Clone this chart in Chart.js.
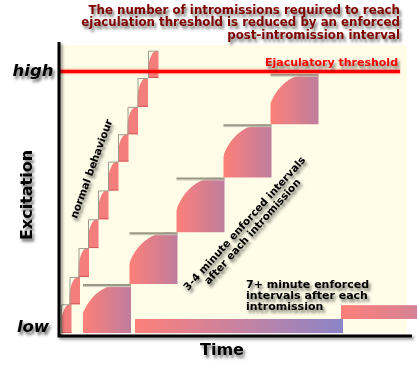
<!DOCTYPE html>
<html>
<head>
<meta charset="utf-8">
<script src="https://cdn.jsdelivr.net/npm/chart.js@4"></script>
<style>
  html, body { margin: 0; padding: 0; background: #fff; }
  #wrap { width: 417px; height: 366px; position: relative; }
</style>
</head>
<body>
<div id="wrap"><canvas id="chart"></canvas></div>
<script>
// excitation model, arbitrary units: time on x, excitation on y
// normal behaviour: one intromission after another
const normalStart = [0.1, 0.95, 1.85, 2.8, 3.8, 4.8, 5.8, 6.75, 7.75, 8.8];
const normalLevel = [1.0, 1.95, 2.95, 3.95, 4.95, 5.95, 6.9, 7.85, 8.85, 9.8];
const normalDur = 1.05;

// 3-4 minute enforced intervals
const shortStart = [2.3, 6.95, 11.65, 16.35, 21.05];
const shortLevel = [1.7, 3.5, 5.4, 7.25, 9.0];
const shortDur = 4.8;

// 7+ minute enforced intervals
const longStart = [7.5, 28.1];
const longEnd = [28.3, 36];
const longLevel = [0.49, 0.97];

const threshold = 9.08;
const tickValues = [0.2, threshold];
const tickLabels = ["low", "high"];

const titleLines = [
  "The number of intromissions required to reach",
  "ejaculation threshold is reduced by an enforced",
  "post-intromission interval",
];

const FONT = "'DejaVu Sans', Verdana, sans-serif";

function shadowText(ctx, text, x, y, font, color, align, rot) {
  ctx.save();
  ctx.translate(x, y);
  if (rot) ctx.rotate(rot);
  ctx.font = font;
  ctx.textAlign = align || "left";
  ctx.textBaseline = "middle";
  ctx.shadowColor = "rgba(0,0,0,0.55)";
  ctx.shadowBlur = 3;
  ctx.shadowOffsetX = 2;
  ctx.shadowOffsetY = 3;
  ctx.fillStyle = color;
  ctx.fillText(text, 0, 0);
  ctx.restore();
}

function drawStep(ctx, xs, ys, t0, t1, v0, v1, small) {
  const l = xs.getPixelForValue(t0);
  const r = xs.getPixelForValue(t1);
  const b = ys.getPixelForValue(v0);
  const t = ys.getPixelForValue(v1);
  const w = r - l;
  const h = b - t;

  ctx.save();
  ctx.beginPath();
  ctx.rect(l, t, w, h);
  ctx.clip();
  if (small) {
    ctx.fillStyle = "#f47e7c";
  } else {
    const g = ctx.createLinearGradient(l, 0, r, 0);
    g.addColorStop(0, "#fd8079");
    g.addColorStop(1, "#bf7d9d");
    ctx.fillStyle = g;
  }
  ctx.beginPath();
  ctx.ellipse(l + w * 0.81, b, w * 0.89, h, 0, 0, Math.PI * 2);
  ctx.fill();
  ctx.restore();

  ctx.save();
  if (small) {
    ctx.strokeStyle = "#d45a5a";
    ctx.lineWidth = 1;
    ctx.beginPath();
    ctx.moveTo(l, b - 0.5);
    ctx.lineTo(r, b - 0.5);
    ctx.stroke();
    ctx.strokeStyle = "#9c9c8c";
    ctx.beginPath();
    ctx.moveTo(l + 0.5, b);
    ctx.lineTo(l + 0.5, t + 0.5);
    ctx.lineTo(r, t + 0.5);
    ctx.stroke();
  } else {
    ctx.strokeStyle = "#cfcfbf";
    ctx.lineWidth = 1;
    ctx.beginPath();
    ctx.moveTo(l, t + 2.5);
    ctx.lineTo(r, t + 2.5);
    ctx.stroke();
    ctx.strokeStyle = "#999986";
    ctx.lineWidth = 2;
    ctx.beginPath();
    ctx.moveTo(l, t + 1);
    ctx.lineTo(r, t + 1);
    ctx.stroke();
  }
  ctx.restore();
}

const backdrop = {
  id: "backdrop",
  beforeDatasetsDraw(chart) {
    const { ctx, scales } = chart;
    const xs = scales.x, ys = scales.y;

    // cream plot area
    ctx.save();
    ctx.fillStyle = "#fffde8";
    const l = xs.getPixelForValue(0), r = xs.getPixelForValue(34.7);
    const t = ys.getPixelForValue(10), b = ys.getPixelForValue(0);
    ctx.fillRect(l, t, r - l, b - t);
    ctx.restore();

    // 7+ minute intervals: long slow rises
    longStart.forEach((s, i) => {
      const x0 = xs.getPixelForValue(s);
      const x1 = xs.getPixelForValue(longEnd[i]);
      const y0 = ys.getPixelForValue(i ? longLevel[i - 1] : 0);
      const y1 = ys.getPixelForValue(longLevel[i]);
      const g = ctx.createLinearGradient(x0, 0, i ? x0 + 205 : x1, 0);
      g.addColorStop(0, "#fd8079");
      g.addColorStop(0.5, "#c882a0");
      g.addColorStop(1, "#8a84c8");
      ctx.fillStyle = g;
      ctx.fillRect(x0, y1, x1 - x0, y0 - y1);
    });

    // 3-4 minute intervals
    shortStart.forEach((s, i) => {
      drawStep(ctx, xs, ys, s, s + shortDur, i ? shortLevel[i - 1] : 0, shortLevel[i], false);
    });

    // normal behaviour
    normalStart.forEach((s, i) => {
      drawStep(ctx, xs, ys, s, s + normalDur, i ? normalLevel[i - 1] : 0, normalLevel[i], true);
    });
  },
  beforeDatasetDraw(chart) {
    const ctx = chart.ctx;
    ctx.save();
    ctx.shadowColor = "rgba(255,90,90,0.6)";
    ctx.shadowBlur = 3;
  },
  afterDatasetDraw(chart) {
    chart.ctx.restore();
  },
  afterDatasetsDraw(chart) {
    const { ctx, scales } = chart;
    const xs = scales.x, ys = scales.y;

    // axes
    ctx.save();
    ctx.shadowColor = "rgba(0,0,0,0.45)";
    ctx.shadowBlur = 3;
    ctx.shadowOffsetX = 2;
    ctx.shadowOffsetY = 2;
    ctx.strokeStyle = "#000";
    ctx.lineWidth = 3;
    ctx.beginPath();
    ctx.moveTo(xs.getPixelForValue(-0.1), ys.getPixelForValue(10.1));
    ctx.lineTo(xs.getPixelForValue(-0.1), ys.getPixelForValue(-0.1));
    ctx.lineTo(xs.getPixelForValue(35.2), ys.getPixelForValue(-0.1));
    ctx.stroke();
    ctx.restore();

    // y tick labels
    tickValues.forEach((v, i) => {
      shadowText(ctx, tickLabels[i], xs.getPixelForValue(-2.7), ys.getPixelForValue(v),
        "italic bold 16.5px " + FONT, "#000", "center");
    });

    // axis titles
    shadowText(ctx, "Excitation", 28, 195, "bold 16px " + FONT, "#000", "center", -Math.PI / 2);
    shadowText(ctx, "Time", 222, 351, "bold 16px " + FONT, "#000", "center");

    // title
    titleLines.forEach((line, i) => {
      shadowText(ctx, line, 400, 11 + i * 12.3, "bold 11.8px " + FONT, "#800000", "right");
    });

    shadowText(ctx, "Ejaculatory threshold", 398, 63, "bold 11px " + FONT, "#ff0000", "right");

    shadowText(ctx, "normal behaviour", 92, 169, "bold 10.5px " + FONT, "#000", "center",
      -70 * Math.PI / 180);

    shadowText(ctx, "3-4 minute enforced intervals", 245, 224, "bold 10.5px " + FONT, "#000", "center",
      -48 * Math.PI / 180);
    shadowText(ctx, "after each intromission", 253, 232, "bold 10.5px " + FONT, "#000", "center",
      -48 * Math.PI / 180);

    ["7+ minute enforced", "intervals after each", "intromission"].forEach((line, i) => {
      shadowText(ctx, line, 246, 285 + i * 11, "bold 11px " + FONT, "#000", "left");
    });
  },
};

new Chart(document.getElementById("chart"), {
  type: "scatter",
  data: {
    datasets: [
      {
        label: "Ejaculatory threshold",
        type: "line",
        data: [{ x: -0.2, y: threshold }, { x: 34.0, y: threshold }],
        borderColor: "#ff0000",
        borderWidth: 3.5,
        pointRadius: 0,
      },
    ],
  },
  options: {
    responsive: true,
    maintainAspectRatio: false,
    animation: false,
    layout: { padding: { left: 58, right: 0, top: 42, bottom: 30 } },
    plugins: { legend: { display: false }, tooltip: { enabled: false } },
    scales: {
      x: { type: "linear", min: -0.2, max: 35.7, display: false },
      y: { min: -0.1, max: 10.1, display: false },
    },
  },
  plugins: [backdrop],
});
</script>
</body>
</html>
